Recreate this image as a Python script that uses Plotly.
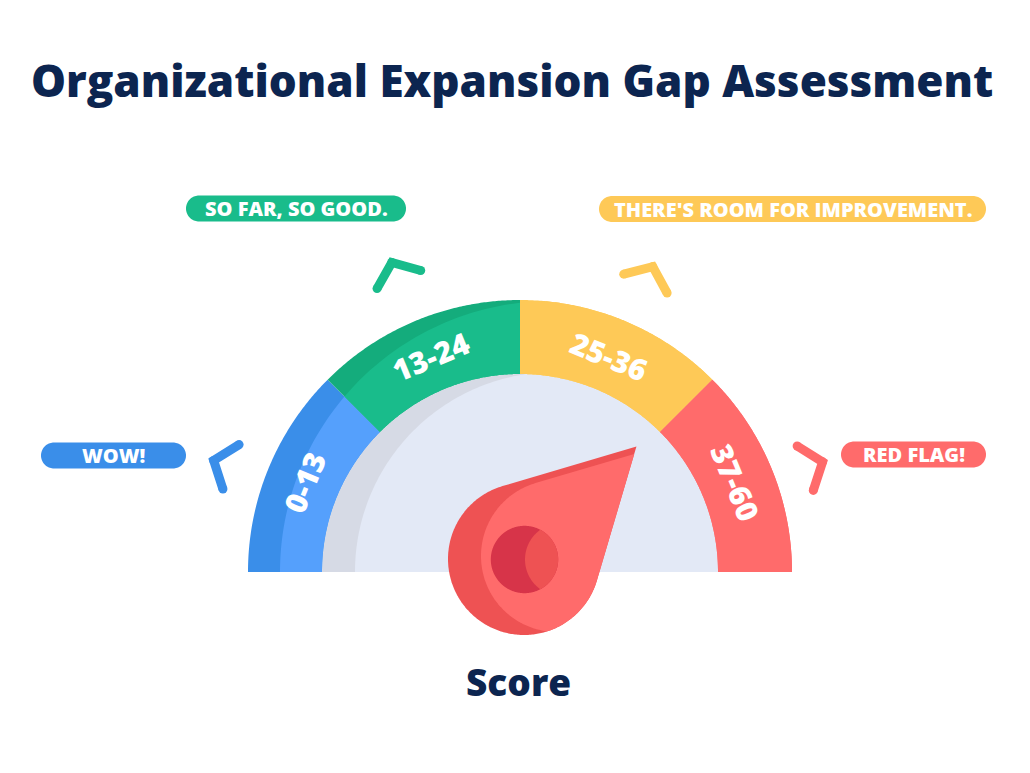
import numpy as np
import plotly.graph_objects as go

# ---------------- data ----------------
score_ranges = ["0-13", "13-24", "25-36", "37-60"]
range_messages = ["WOW!", "SO FAR, SO GOOD.", "THERE'S ROOM FOR IMPROVEMENT.", "RED FLAG!"]
chart_title = "Organizational Expansion Gap Assessment"
axis_title = "Score"
needle_angle_deg = 45.0   # needle direction (degrees, 0 = right end of dial)

# ---------------- styles / layout constants ----------------
W, H = 1030, 773
CX, CY = 520.0, 572.0          # dial centre (canvas units)
R_OUT, R_IN = 272.0, 198.0
LABEL_R = 233.0
NAVY = "#0c2550"
band_dark = ["#3a8ee9", "#14ac7c", "#fec957", "#ff6b6b"]
band_light = ["#55a0fc", "#19bc8b", "#fec957", "#ff6b6b"]
chip_colors = ["#3a8ee9", "#19bc8b", "#fec957", "#ff6b6b"]
chevron_angles = [160, 112.5, 66.5, 20]
chevron_radii = [326, 335, 333, 322]
chip_centers = [(113.5, 455.5), (296, 208.5), (792.5, 209), (913.5, 454.5)]
chip_widths = [145, 220, 387, 145]
CHIP_H = 26
HUB = (524.0, 559.0)
NEEDLE_R, NEEDLE_LEN = 76.0, 159.0
FONT = "Open Sans"
HEAVY = 800


# ---------------- geometry helpers ----------------
def polar(theta_deg, r, cx=CX, cy=CY):
    t = np.radians(theta_deg)
    return (cx + r * np.cos(t), cy - r * np.sin(t))


def circle(cx, cy, r, n=360):
    a = np.linspace(0, 2 * np.pi, n, endpoint=False)
    return [(cx + r * np.cos(t), cy + r * np.sin(t)) for t in a]


def sector(a0, a1, r_in, r_out, n=120):
    th = np.linspace(a0, a1, n)
    pts = [polar(t, r_out) for t in th]
    if r_in > 0:
        pts += [polar(t, r_in) for t in th[::-1]]
    return pts


def teardrop(cx, cy, r, tx, ty, n=240):
    dx, dy = tx - cx, ty - cy
    d = np.hypot(dx, dy)
    phi = np.arctan2(dy, dx)
    beta = np.arccos(r / d)
    angs = np.linspace(phi + beta, phi + 2 * np.pi - beta, n)
    return [(cx + r * np.cos(a), cy + r * np.sin(a)) for a in angs] + [(tx, ty)]


def signed_area(poly):
    s = 0.0
    for i in range(len(poly)):
        x1, y1 = poly[i]
        x2, y2 = poly[(i + 1) % len(poly)]
        s += x1 * y2 - x2 * y1
    return s / 2


def clip(subject, clipper):
    orient = 1 if signed_area(clipper) > 0 else -1

    def inside(p, a, b):
        return orient * ((b[0] - a[0]) * (p[1] - a[1]) - (b[1] - a[1]) * (p[0] - a[0])) >= 0

    def inter(p, q, a, b):
        x1, y1 = p; x2, y2 = q; x3, y3 = a; x4, y4 = b
        den = (x1 - x2) * (y3 - y4) - (y1 - y2) * (x3 - x4)
        if abs(den) < 1e-12:
            return q
        t = ((x1 - x3) * (y3 - y4) - (y1 - y3) * (x3 - x4)) / den
        return (x1 + t * (x2 - x1), y1 + t * (y2 - y1))

    out = list(subject)
    for i in range(len(clipper)):
        a, b = clipper[i], clipper[(i + 1) % len(clipper)]
        inp, out = out, []
        if not inp:
            break
        for j in range(len(inp)):
            cur, prev = inp[j], inp[j - 1]
            if inside(cur, a, b):
                if not inside(prev, a, b):
                    out.append(inter(prev, cur, a, b))
                out.append(cur)
            elif inside(prev, a, b):
                out.append(inter(prev, cur, a, b))
    return out


def to_path(pts):
    return "M " + " L ".join(f"{x:.2f},{y:.2f}" for x, y in pts) + " Z"


def rounded_rect(cx, cy, w, h):
    r = h / 2
    x0, x1 = cx - w / 2 + r, cx + w / 2 - r
    pts = []
    for a in np.linspace(-90, 90, 40):
        t = np.radians(a)
        pts.append((x1 + r * np.cos(t), cy + r * np.sin(t)))
    for a in np.linspace(90, 270, 40):
        t = np.radians(a)
        pts.append((x0 + r * np.cos(t), cy + r * np.sin(t)))
    return pts


shapes = []


def add_poly(pts, color):
    shapes.append(dict(type="path", path=to_path(pts), xref="x", yref="y",
                       fillcolor=color, line=dict(width=0), layer="above"))


n_seg = len(score_ranges)
span = 180.0 / n_seg

# inner dial face (grey crescent + lavender face)
add_poly(sector(0, 180, 0, R_IN) + [(CX, CY)], "#d6dae5")
add_poly(clip(sector(0, 180, 0, R_IN) + [(CX, CY)], circle(CX + 35, CY, 200)), "#e3e9f6")

# coloured bands
light_disk = circle(CX + 31, CY, 271)
for i in range(n_seg):
    a0, a1 = 180 - i * span, 180 - (i + 1) * span
    sec = sector(a1, a0, R_IN, R_OUT)
    add_poly(sec, band_dark[i])
    add_poly(clip(sec, light_disk), band_light[i])

# needle
t = np.radians(needle_angle_deg)
tip = (HUB[0] + NEEDLE_LEN * np.cos(t), HUB[1] - NEEDLE_LEN * np.sin(t))
dark_drop = teardrop(HUB[0], HUB[1], NEEDLE_R, tip[0], tip[1])
shift_drop = [(x + 33, y - 3) for x, y in dark_drop]
add_poly(dark_drop, "#ee5253")
add_poly(clip(dark_drop, shift_drop), "#ff6b6b")
hole = circle(HUB[0] + 0.5, HUB[1] + 0.5, 33.7)
add_poly(hole, "#d73449")
add_poly(clip(hole, circle(HUB[0] + 37.5, HUB[1] + 0.5, 36.5)), "#ee5253")

# message chips
for (cx, cy), w, c in zip(chip_centers, chip_widths, chip_colors):
    add_poly(rounded_rect(cx, cy, w, CHIP_H), c)

fig = go.Figure()

# chevrons
for ang, rad, c in zip(chevron_angles, chevron_radii, chip_colors):
    corner = polar(ang, rad)
    inward = np.array([CX - corner[0], CY - corner[1]])
    inward /= np.linalg.norm(inward)
    ends = []
    for s in (-1, 1):
        a = np.radians(52 * s)
        v = (inward[0] * np.cos(a) - inward[1] * np.sin(a),
             inward[0] * np.sin(a) + inward[1] * np.cos(a))
        ends.append((corner[0] + 30 * v[0], corner[1] + 30 * v[1]))
    xs = [ends[0][0], corner[0], ends[1][0]]
    ys = [ends[0][1], corner[1], ends[1][1]]
    fig.add_trace(go.Scatter(x=xs, y=ys, mode="lines+markers",
                             line=dict(color=c, width=9),
                             marker=dict(color=c, size=9),
                             hoverinfo="skip", showlegend=False))

annotations = []
# range labels along the arc
for i, lab in enumerate(score_ranges):
    mid = 180 - (i + 0.5) * span
    x, y = polar(mid, LABEL_R)
    annotations.append(dict(x=x, y=y, xref="x", yref="y", text=lab, showarrow=False,
                            textangle=90 - mid, xanchor="center", yanchor="middle",
                            font=dict(family=FONT, size=30, color="white", weight=HEAVY)))
# chip texts
for (cx, cy), msg in zip(chip_centers, range_messages):
    annotations.append(dict(x=cx, y=cy, xref="x", yref="y", text=msg, showarrow=False,
                            xanchor="center", yanchor="middle",
                            font=dict(family=FONT, size=20, color="white", weight=HEAVY)))
annotations.append(dict(x=512, y=80, xref="x", yref="y", text=chart_title, showarrow=False,
                        xanchor="center", yanchor="middle",
                        font=dict(family=FONT, size=44, color=NAVY, weight=HEAVY)))
annotations.append(dict(x=518, y=681, xref="x", yref="y", text=axis_title, showarrow=False,
                        xanchor="center", yanchor="middle",
                        font=dict(family=FONT, size=37, color=NAVY, weight=HEAVY)))

fig.update_layout(
    width=W, height=H, margin=dict(l=0, r=0, t=0, b=0),
    paper_bgcolor="white", plot_bgcolor="white",
    xaxis=dict(range=[0, W], visible=False, fixedrange=True),
    yaxis=dict(range=[H, 0], visible=False, fixedrange=True),
    shapes=shapes, annotations=annotations, showlegend=False,
)

fig.write_html("out.html")
